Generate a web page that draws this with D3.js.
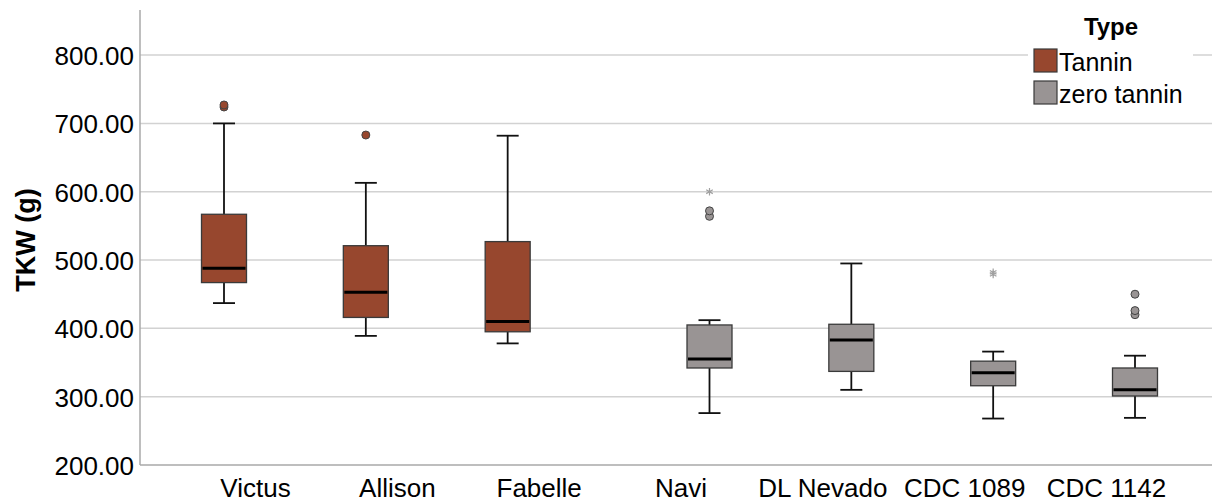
<!DOCTYPE html>
<html>
<head>
<meta charset="utf-8">
<script src="https://cdn.jsdelivr.net/npm/d3@7"></script>
<style>
  body { margin: 0; background: #fff; }
  text { font-family: "Liberation Sans", Arial, sans-serif; }
</style>
</head>
<body>
<div id="chart"></div>
<script>
// data
var cultivars = ["Victus", "Allison", "Fabelle", "Navi", "DL Nevado", "CDC 1089", "CDC 1142"];
var types = ["Tannin", "zero tannin"];
var cultivarType = ["Tannin", "Tannin", "Tannin", "zero tannin", "zero tannin", "zero tannin", "zero tannin"];
var lowWhisker = [437, 389, 378, 276, 310, 268, 269];
var q1 = [467, 416, 395, 342, 337, 316, 301];
var medians = [488, 453, 410, 355, 383, 335, 310];
var q3 = [567, 521, 527, 405, 406, 352, 342];
var highWhisker = [700, 613, 682, 412, 495, 366, 360];
var outliers = [[724, 727], [683], [], [564, 572], [], [], [420, 426, 450]];
var extremes = [[], [], [], [600], [], [479, 482], []];
var yTicks = [200, 300, 400, 500, 600, 700, 800];

var typeColor = { "Tannin": "#97472e", "zero tannin": "#999494" };

var W = 1212, H = 502;
var svg = d3.select("#chart").append("svg").attr("width", W).attr("height", H);

var y = d3.scaleLinear().domain([200, 866]).range([465, 10]);
var x = d3.scalePoint().domain(cultivars).range([255, 1106]);
var offset = d3.scalePoint().domain(types).range([-31, 29]);
var boxW = 45, capW = 22;

// gridlines
svg.append("g").selectAll("line").data(yTicks.slice(1)).join("line")
    .attr("x1", 140).attr("x2", W)
    .attr("y1", function(d) { return y(d); }).attr("y2", function(d) { return y(d); })
    .attr("stroke", "#d2d2d2").attr("stroke-width", 1.5);

// axes
var yAxis = svg.append("g").attr("transform", "translate(140,0)")
    .call(d3.axisLeft(y).tickValues(yTicks).tickSize(0).tickPadding(6).tickFormat(d3.format(".2f")));
yAxis.select(".domain").remove();
yAxis.selectAll("text").attr("font-size", 26).attr("fill", "#000").attr("dy", "0.36em");

svg.append("line").attr("x1", 140).attr("x2", 140).attr("y1", 10).attr("y2", 465)
    .attr("stroke", "#a8a8a8").attr("stroke-width", 1.5);

var xAxis = svg.append("g").attr("transform", "translate(0,465)")
    .call(d3.axisBottom(x).tickSize(0).tickPadding(10));
xAxis.select(".domain").remove();
xAxis.selectAll("text").attr("font-size", 26).attr("fill", "#000").attr("dy", "0.85em");
svg.append("line").attr("x1", 140).attr("x2", W).attr("y1", 465).attr("y2", 465)
    .attr("stroke", "#a8a8a8").attr("stroke-width", 1.5);

// y title
svg.append("text")
    .attr("transform", "translate(35,240) rotate(-90)")
    .attr("text-anchor", "middle")
    .attr("font-size", 27).attr("font-weight", "bold")
    .text("TKW (g)");

// boxes
var boxes = svg.append("g").selectAll("g").data(cultivars).join("g")
    .attr("transform", function(d, i) { return "translate(" + (x(d) + offset(cultivarType[i])) + ",0)"; });

boxes.append("line")
    .attr("y1", function(d, i) { return y(highWhisker[i]); })
    .attr("y2", function(d, i) { return y(q3[i]); })
    .attr("stroke", "#111").attr("stroke-width", 1.8);
boxes.append("line")
    .attr("y1", function(d, i) { return y(q1[i]); })
    .attr("y2", function(d, i) { return y(lowWhisker[i]); })
    .attr("stroke", "#111").attr("stroke-width", 1.8);
boxes.append("line").attr("x1", -capW / 2).attr("x2", capW / 2)
    .attr("y1", function(d, i) { return y(highWhisker[i]); })
    .attr("y2", function(d, i) { return y(highWhisker[i]); })
    .attr("stroke", "#111").attr("stroke-width", 1.8);
boxes.append("line").attr("x1", -capW / 2).attr("x2", capW / 2)
    .attr("y1", function(d, i) { return y(lowWhisker[i]); })
    .attr("y2", function(d, i) { return y(lowWhisker[i]); })
    .attr("stroke", "#111").attr("stroke-width", 1.8);
boxes.append("rect")
    .attr("x", -boxW / 2).attr("width", boxW)
    .attr("y", function(d, i) { return y(q3[i]); })
    .attr("height", function(d, i) { return y(q1[i]) - y(q3[i]); })
    .attr("fill", function(d, i) { return typeColor[cultivarType[i]]; })
    .attr("stroke", "#3a3a3a").attr("stroke-width", 1.3);
boxes.append("line").attr("x1", -boxW / 2 + 1).attr("x2", boxW / 2 - 1)
    .attr("y1", function(d, i) { return y(medians[i]); })
    .attr("y2", function(d, i) { return y(medians[i]); })
    .attr("stroke", "#000").attr("stroke-width", 3);

// outliers
boxes.each(function(d, i) {
    var g = d3.select(this);
    g.selectAll("circle").data(outliers[i]).join("circle")
        .attr("cx", 0).attr("cy", function(v) { return y(v); }).attr("r", 4)
        .attr("fill", typeColor[cultivarType[i]])
        .attr("stroke", "#444").attr("stroke-width", 1);
    var sym = d3.symbol().type(d3.symbolAsterisk || d3.symbolCross).size(40);
    g.selectAll("path.ext").data(extremes[i]).join("path")
        .attr("class", "ext")
        .attr("transform", function(v) { return "translate(0," + y(v) + ")"; })
        .attr("d", sym)
        .attr("fill", "none").attr("stroke", "#a0a0a0").attr("stroke-width", 1.2);
});

// legend
var legend = svg.append("g");
legend.append("rect").attr("x", 1028).attr("y", 8).attr("width", 165).attr("height", 105).attr("fill", "#fff");
legend.append("text").attr("x", 1111).attr("y", 35).attr("text-anchor", "middle")
    .attr("font-size", 24).attr("font-weight", "bold").text("Type");
var items = legend.selectAll("g.item").data(types).join("g").attr("class", "item")
    .attr("transform", function(d, i) { return "translate(1034," + (49 + i * 32) + ")"; });
items.append("rect").attr("width", 23).attr("height", 23)
    .attr("fill", function(d) { return typeColor[d]; })
    .attr("stroke", "#3a3a3a").attr("stroke-width", 1.2);
items.append("text").attr("x", 25).attr("y", 22).attr("font-size", 25).text(function(d) { return d; });
</script>
</body>
</html>
